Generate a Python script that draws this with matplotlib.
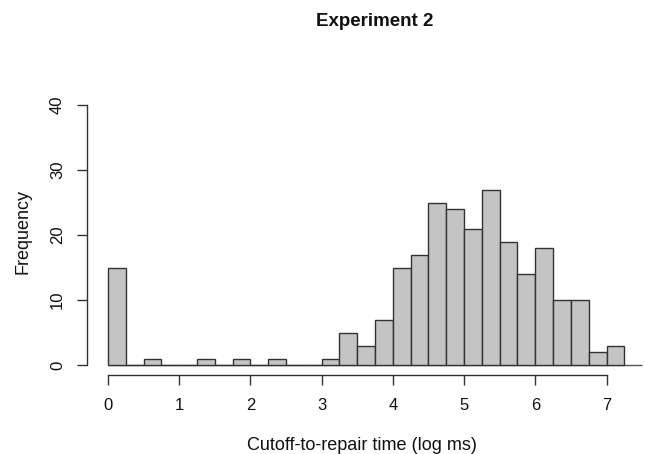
import matplotlib.pyplot as plt
import numpy as np

plt.rcParams['font.family'] = ['Liberation Sans', 'DejaVu Sans']

# histogram breaks (width 0.25) and counts
bin_edges = np.arange(0, 7.5, 0.25)
counts = [15, 0, 1, 0, 0, 1, 0, 1, 0, 1, 0, 0, 1, 5, 3, 7,
          15, 17, 25, 24, 21, 27, 19, 14, 18, 10, 10, 2, 3]
x_ticks = [0, 1, 2, 3, 4, 5, 6, 7]
y_ticks = [0, 10, 20, 30, 40]

fig = plt.figure(figsize=(6.45, 4.54), dpi=100)
ax = fig.add_axes([0.1353, 0.1731, 0.8647, 0.6185])

ax.bar(bin_edges[:-1], counts, width=0.25, align='edge',
       color='#c4c4c4', edgecolor='#333333', linewidth=1.0, zorder=2)
ax.hlines(0, 0, 7.5, color='#555555', linewidth=1.0, zorder=1)

ax.set_xlim(-0.29, 7.54)
ax.set_ylim(-1.6, 41.6)
ax.set_xticks(x_ticks)
ax.set_yticks(y_ticks)

for s in ['top', 'right']:
    ax.spines[s].set_visible(False)
ax.spines['bottom'].set_bounds(0, 7)
ax.spines['left'].set_bounds(0, 40)
for s in ['bottom', 'left']:
    ax.spines[s].set_color('#333333')
    ax.spines[s].set_linewidth(1.0)

ax.tick_params(axis='both', length=7, width=1.0, color='#333333',
               labelsize=12, labelcolor='#111111', pad=9)
for lab in ax.get_yticklabels():
    lab.set_rotation(90)
    lab.set_va('center')

fig.text(362 / 645, 1 - 445 / 454, 'Cutoff-to-repair time (log ms)',
         ha='center', va='center', fontsize=13, color='#111111')
fig.text(23 / 645, 1 - 232 / 454, 'Frequency', rotation=90,
         ha='center', va='center', fontsize=13, color='#111111')
fig.text(375 / 645, 1 - 22 / 454, 'Experiment 2', ha='center', va='center',
         fontsize=13.5, fontweight='bold', color='#111111')

fig.savefig('out.png', dpi=100)
